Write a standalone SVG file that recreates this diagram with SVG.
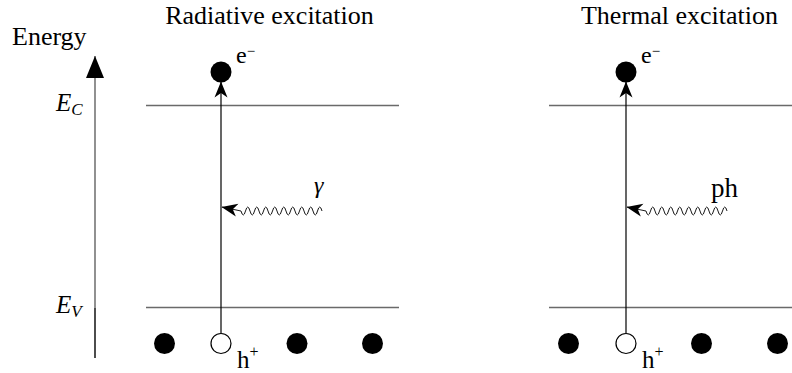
<svg xmlns="http://www.w3.org/2000/svg" width="792" height="373" viewBox="0 0 792 373">
<style>
text{font-family:"Liberation Serif","DejaVu Serif",serif;fill:#000}
.t{font-size:26px}
.lvl{stroke:#6a6a6a;stroke-width:1.3;fill:none}
.ax{stroke:#000;stroke-width:1.2;fill:none}
.wav{stroke:#000;stroke-width:0.9;fill:none}
.dot{fill:#000}
.hole{fill:#fff;stroke:#000;stroke-width:1.2}
.lab{font-size:25px}
.it{font-style:italic}
</style>
<defs>
<marker id="st" viewBox="0 0 16 14" refX="15.5" refY="7" markerWidth="16" markerHeight="14" markerUnits="userSpaceOnUse" orient="auto">
<path d="M0,0.5 L16,7 L0,13.5 L4.5,7 Z" fill="#000"/>
</marker>
<marker id="tri" viewBox="0 0 22 18" refX="22" refY="9" markerWidth="22" markerHeight="18" markerUnits="userSpaceOnUse" orient="auto">
<path d="M0,0 L22,9 L0,18 Z" fill="#000"/>
</marker>
</defs>
<text class="t" x="12" y="45">Energy</text>
<text class="t" x="269.5" y="24" text-anchor="middle">Radiative excitation</text>
<text class="t" x="679.5" y="24" text-anchor="middle">Thermal excitation</text>
<g id="axis">
<line x1="95" y1="358" x2="95" y2="308" stroke="#000" stroke-width="1.4"/>
<line x1="95" y1="308" x2="95" y2="56" stroke="#555" stroke-width="1.3" marker-end="url(#tri)"/>
<text class="lab it" x="56" y="111">E<tspan font-size="17" dy="4">C</tspan></text>
<text class="lab it" x="56" y="313">E<tspan font-size="17" dy="4">V</tspan></text>
</g>
<g id="levels">
<line class="lvl" x1="146" y1="105.5" x2="399" y2="105.5"/>
<line class="lvl" x1="146" y1="307.5" x2="399" y2="307.5"/>
<line class="lvl" x1="549" y1="105.5" x2="792" y2="105.5"/>
<line class="lvl" x1="549" y1="307.5" x2="792" y2="307.5"/>
</g>
<g id="left-panel">
<g id="electron-l"><circle class="dot" cx="221" cy="72" r="10.5"/><text x="236" y="63" font-size="24">e<tspan font-size="15" dy="-7">−</tspan></text></g>
<circle class="dot" cx="164.5" cy="343.5" r="10.5"/>
<g id="hole-l"><circle class="hole" cx="221" cy="343.5" r="10"/><text x="237" y="368" font-size="25">h<tspan font-size="16" dy="-11">+</tspan></text></g>
<circle class="dot" cx="297" cy="343.5" r="10.5"/>
<circle class="dot" cx="372.5" cy="343.5" r="10.5"/>
</g>
<g id="right-panel">
<g id="electron-r"><circle class="dot" cx="626" cy="72" r="10.5"/><text x="641" y="63" font-size="24">e<tspan font-size="15" dy="-7">−</tspan></text></g>
<circle class="dot" cx="568.5" cy="343.5" r="10.5"/>
<g id="hole-r"><circle class="hole" cx="626" cy="343.5" r="10"/><text x="642" y="368" font-size="25">h<tspan font-size="16" dy="-11">+</tspan></text></g>
<circle class="dot" cx="701.5" cy="343.5" r="10.5"/>
<circle class="dot" cx="777.5" cy="343.5" r="10.5"/>
</g>
<g id="connectors">
<line class="ax" x1="221" y1="333" x2="221" y2="82" marker-end="url(#st)"/>
<line class="ax" x1="626" y1="333" x2="626" y2="82" marker-end="url(#st)"/>
<path class="wav" d="M322,211 q-2.25,-8 -4.5,0 t-4.5,0 t-4.5,0 t-4.5,0 t-4.5,0 t-4.5,0 t-4.5,0 t-4.5,0 t-4.5,0 t-4.5,0 t-4.5,0 t-4.5,0 t-4.5,0 t-4.5,0 t-4.5,0 t-4.5,0 t-4.5,0 t-4.5,0 L222,207" marker-end="url(#st)"/>
<path class="wav" d="M727,211 q-2.25,-8 -4.5,0 t-4.5,0 t-4.5,0 t-4.5,0 t-4.5,0 t-4.5,0 t-4.5,0 t-4.5,0 t-4.5,0 t-4.5,0 t-4.5,0 t-4.5,0 t-4.5,0 t-4.5,0 t-4.5,0 t-4.5,0 t-4.5,0 t-4.5,0 L627,207" marker-end="url(#st)"/>
<text class="it" x="314" y="193" font-size="24">γ</text>
<text x="711" y="197" font-size="27">ph</text>
</g>
</svg>
